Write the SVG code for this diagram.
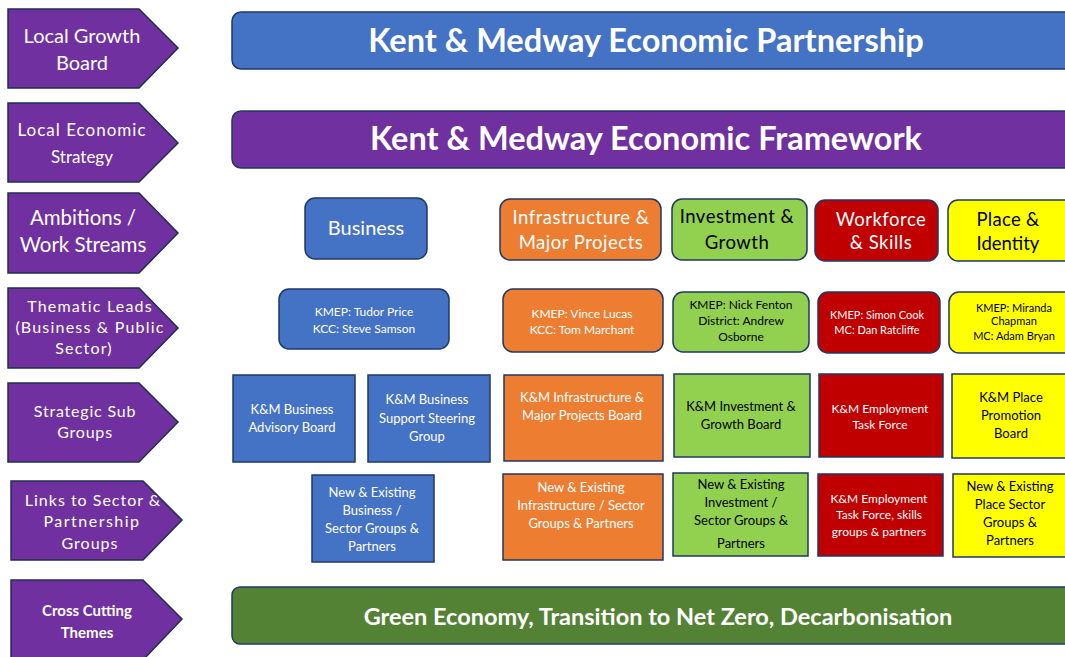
<svg xmlns="http://www.w3.org/2000/svg" width="1065" height="657" viewBox="0 0 1065 657">
<style>
text{font-family:Lato,"Open Sans","Liberation Sans",sans-serif;text-anchor:middle}
.chev{fill:#7030A0;stroke:#1F2F50;stroke-width:1.5}
.ct{fill:#fff;font-size:18px}
.bx{stroke:#1F3864;stroke-width:1.5}
.blue{fill:#4472C4}.purple{fill:#7030A0}.orange{fill:#ED7D31}.lg{fill:#92D050}.red{fill:#C00000}.yel{fill:#FFFF00}.dg{fill:#548235}
.w{fill:#fff}.k{fill:#000}
.big{font-size:32.5px;font-weight:bold}
.amb{font-size:18.5px}
.lead{font-size:12px}
.sub{font-size:13px}
</style>
<g id="labels">
<g id="lbl-growth"><path class="chev" d="M8,9 H139 L178,48 L139,88 H8 Z"/><text class="ct" x="82" y="43" style="font-size:20px">Local Growth</text><text class="ct" x="82" y="70" style="font-size:20px">Board</text></g>
<g id="lbl-strategy"><path class="chev" d="M8,103 H139 L178,143 L139,182 H8 Z"/><text class="ct" x="82" y="136" style="font-size:17px;letter-spacing:1px">Local Economic</text><text class="ct" x="82" y="163" style="font-size:17px">Strategy</text></g>
<g id="lbl-ambitions"><path class="chev" d="M8,193 H139 L178,233 L139,273 H8 Z"/><text class="ct" x="83" y="225" style="font-size:20.5px">Ambitions /</text><text class="ct" x="83" y="252" style="font-size:20.5px">Work Streams</text></g>
<g id="lbl-thematic"><path class="chev" d="M8,288 H139 L178,328 L139,368 H8 Z"/><text class="ct" x="90" y="312" style="font-size:16px;letter-spacing:1.2px">Thematic Leads</text><text class="ct" x="90" y="333" style="font-size:16px;letter-spacing:1.2px">(Business &amp; Public</text><text class="ct" x="84" y="354" style="font-size:16px;letter-spacing:1.2px">Sector)</text></g>
<g id="lbl-subgroups"><path class="chev" d="M8,383 H139 L178,422 L139,462 H8 Z"/><text class="ct" x="85" y="417" style="font-size:16px;letter-spacing:0.8px">Strategic Sub</text><text class="ct" x="85" y="438" style="font-size:16px;letter-spacing:0.8px">Groups</text></g>
<g id="lbl-links"><path class="chev" d="M11,481 H143 L182,520 L143,560 H11 Z"/><text class="ct" x="93" y="506" style="font-size:16px;letter-spacing:1px">Links to Sector &amp;</text><text class="ct" x="92" y="527" style="font-size:16px;letter-spacing:1.5px">Partnership</text><text class="ct" x="90" y="549" style="font-size:16px;letter-spacing:1px">Groups</text></g>
<g id="lbl-cross"><path class="chev" d="M11,580 H143 L182,619 L143,660 H11 Z"/><text class="ct" x="87" y="616" style="font-size:15px;font-weight:bold">Cross Cutting</text><text class="ct" x="87" y="638" style="font-size:15px;font-weight:bold">Themes</text></g>
</g>
<g id="connectors"></g>
<g id="bar-partnership"><rect class="bx blue" x="232" y="12" width="850" height="57" rx="9"/><text class="w big" x="646" y="52">Kent &amp; Medway Economic Partnership</text></g>
<g id="bar-framework"><rect class="bx purple" x="232" y="111" width="850" height="57" rx="9"/><text class="w big" x="646" y="150">Kent &amp; Medway Economic Framework</text></g>

<g id="amb-business"><rect class="bx blue" x="305" y="198" width="122" height="61" rx="10"/><text class="w" x="366" y="235" style="font-size:20px">Business</text></g>
<g id="amb-infra"><rect class="bx orange" x="500" y="199" width="161" height="61" rx="10"/><text class="w amb" x="581" y="224" style="letter-spacing:0.5px">Infrastructure &amp;</text><text class="w amb" x="581" y="249" style="letter-spacing:0.5px">Major Projects</text></g>
<g id="amb-invest"><rect class="bx lg" x="672" y="199" width="135" height="61" rx="10"/><text class="k amb" x="737" y="223" style="letter-spacing:0.5px">Investment &amp;</text><text class="k amb" x="737" y="249" style="letter-spacing:0.5px">Growth</text></g>
<g id="amb-workforce"><rect class="bx red" x="815" y="200" width="123" height="61" rx="10"/><text class="w amb" x="881" y="226" style="letter-spacing:0.5px">Workforce</text><text class="w amb" x="881" y="249" style="letter-spacing:0.5px">&amp; Skills</text></g>
<g id="amb-place"><rect class="bx yel" x="948" y="200" width="130" height="61" rx="10"/><text class="k amb" x="1008" y="226" style="letter-spacing:0.3px">Place &amp;</text><text class="k amb" x="1008" y="250">Identity</text></g>

<g id="lead-business"><rect class="bx blue" x="279" y="289" width="170" height="60" rx="10"/><text class="w lead" x="364" y="316">KMEP: Tudor Price</text><text class="w lead" x="364" y="333">KCC: Steve Samson</text></g>
<g id="lead-infra"><rect class="bx orange" x="503" y="289" width="160" height="63" rx="10"/><text class="w lead" x="582" y="318">KMEP: Vince Lucas</text><text class="w lead" x="582" y="334">KCC: Tom Marchant</text></g>
<g id="lead-invest"><rect class="bx lg" x="673" y="292" width="136" height="60" rx="10"/><text class="k lead" x="741" y="309">KMEP: Nick Fenton</text><text class="k lead" x="741" y="325">District: Andrew</text><text class="k lead" x="741" y="341">Osborne</text></g>
<g id="lead-workforce"><rect class="bx red" x="818" y="292" width="122" height="61" rx="10"/><text class="w" x="877" y="319" style="font-size:11px">KMEP: Simon Cook</text><text class="w" x="877" y="334" style="font-size:11px">MC: Dan Ratcliffe</text></g>
<g id="lead-place"><rect class="bx yel" x="949" y="292" width="130" height="61" rx="10"/><text class="k" x="1014" y="312" style="font-size:11px">KMEP: Miranda</text><text class="k" x="1014" y="325" style="font-size:11px">Chapman</text><text class="k" x="1014" y="340" style="font-size:11px">MC: Adam Bryan</text></g>

<g id="sub-advisory"><rect class="bx blue" x="233" y="375" width="122" height="87"/><text class="w sub" x="292" y="414">K&amp;M Business</text><text class="w sub" x="292" y="432">Advisory Board</text></g>
<g id="sub-support"><rect class="bx blue" x="368" y="375" width="122" height="87"/><text class="w sub" x="427" y="404">K&amp;M Business</text><text class="w sub" x="427" y="423">Support Steering</text><text class="w sub" x="427" y="441">Group</text></g>
<g id="sub-infra"><rect class="bx orange" x="504" y="375" width="159" height="86"/><text class="w sub" x="582" y="402">K&amp;M Infrastructure &amp;</text><text class="w sub" x="582" y="420">Major Projects Board</text></g>
<g id="sub-invest"><rect class="bx lg" x="674" y="374" width="136" height="83"/><text class="k sub" x="741" y="411">K&amp;M Investment &amp;</text><text class="k sub" x="741" y="429">Growth Board</text></g>
<g id="sub-workforce"><rect class="bx red" x="819" y="374" width="124" height="83"/><text class="w" x="880" y="413" style="font-size:12px">K&amp;M Employment</text><text class="w" x="880" y="429" style="font-size:12px">Task Force</text></g>
<g id="sub-place"><rect class="bx yel" x="952" y="374" width="126" height="84"/><text class="k sub" x="1011" y="402">K&amp;M Place</text><text class="k sub" x="1011" y="420">Promotion</text><text class="k sub" x="1011" y="438">Board</text></g>

<g id="link-business"><rect class="bx blue" x="312" y="475" width="122" height="87"/><text class="w sub" x="372" y="497">New &amp; Existing</text><text class="w sub" x="372" y="515">Business /</text><text class="w sub" x="372" y="533">Sector Groups &amp;</text><text class="w sub" x="372" y="551">Partners</text></g>
<g id="link-infra"><rect class="bx orange" x="503" y="474" width="160" height="86"/><text class="w sub" x="581" y="492">New &amp; Existing</text><text class="w sub" x="581" y="510">Infrastructure / Sector</text><text class="w sub" x="581" y="528">Groups &amp; Partners</text></g>
<g id="link-invest"><rect class="bx lg" x="673" y="473" width="135" height="83"/><text class="k sub" x="741" y="489">New &amp; Existing</text><text class="k sub" x="741" y="507">Investment /</text><text class="k sub" x="741" y="525">Sector Groups &amp;</text><text class="k sub" x="741" y="548">Partners</text></g>
<g id="link-workforce"><rect class="bx red" x="818" y="474" width="125" height="82"/><text class="w" x="879" y="503" style="font-size:12px">K&amp;M Employment</text><text class="w" x="879" y="519" style="font-size:12px">Task Force, skills</text><text class="w" x="879" y="536" style="font-size:12px">groups &amp; partners</text></g>
<g id="link-place"><rect class="bx yel" x="953" y="474" width="125" height="83"/><text class="k sub" x="1010" y="491">New &amp; Existing</text><text class="k sub" x="1010" y="509">Place Sector</text><text class="k sub" x="1010" y="527">Groups &amp;</text><text class="k sub" x="1010" y="545">Partners</text></g>

<g id="bar-green"><rect class="bx dg" x="232" y="587" width="850" height="57" rx="8"/><text class="w" x="658" y="625" style="font-size:23.5px;font-weight:bold">Green Economy, Transition to Net Zero, Decarbonisation</text></g>
</svg>
